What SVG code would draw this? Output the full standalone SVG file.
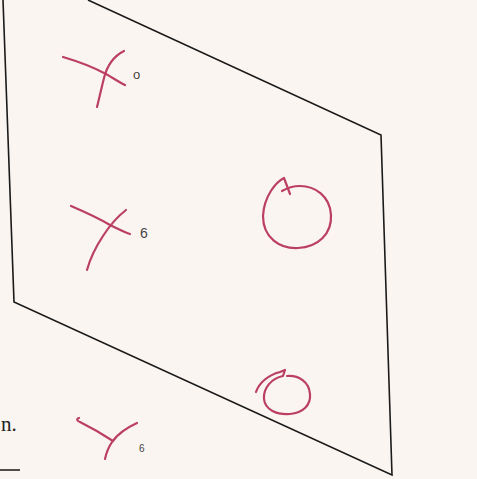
<svg xmlns="http://www.w3.org/2000/svg" width="477" height="479" viewBox="0 0 477 479">
<style>
.edge{fill:none;stroke:#1a1a1a;stroke-width:1.6;stroke-linejoin:miter}
.ink{fill:none;stroke:#bb3f64;stroke-width:2.2;stroke-linecap:round;stroke-linejoin:round}
.lbl{font-family:"Liberation Sans",Arial,sans-serif;fill:#444;}
.print{font-family:"Liberation Serif","Times New Roman",serif;fill:#222;font-size:21px}
</style>
<rect width="477" height="479" fill="#fbf5f1"/>
<g id="plane">
<path class="edge" d="M3,0 L14,302 L392,475 L381,135 L88,0"/>
</g>
<g id="cross1">
<path class="ink" d="M63,57 C80,62 95,68 106,74 C113,78 119,82 125,85"/>
<path class="ink" d="M124,51 C114,56 107,66 104,78 C101,90 99,99 97,107"/>
<text class="lbl" x="133" y="79" font-size="13">o</text>
</g>
<g id="cross2">
<path class="ink" d="M71,206 C85,212 100,219 110,225 C118,229 124,232 130,234"/>
<path class="ink" d="M126,210 C117,217 110,225 103,236 C95,248 90,259 87,270"/>
<text class="lbl" x="140" y="238" font-size="14">6</text>
</g>
<g id="cross3">
<path class="ink" d="M79,418 C76,419 77,421 80,422 C92,428 104,435 113,441"/>
<path class="ink" d="M137,423 C126,428 117,435 112,442 C108,448 106,454 105,459"/>
<text class="lbl" x="139" y="452" font-size="10">6</text>
</g>
<g id="circle1">
<path class="ink" d="M290,194 L284,178 C276,182 264,196 263,216 C263,238 280,249 298,248 C318,247 332,234 331,215 C330,196 315,186 300,186 C293,186 287,188 282,191"/>
</g>
<g id="circle2">
<path class="ink" d="M256,392 C259,383 268,375 280,372 L285,370 L283,376 C272,378 263,388 264,399 C265,410 277,415 290,414 C303,413 311,405 310,394 C309,382 299,375 287,376"/>
</g>
<g id="print">
<text class="print" x="1" y="431">n.</text>
<line x1="0" y1="470" x2="20" y2="470" stroke="#222" stroke-width="1.6"/>
</g>
</svg>
